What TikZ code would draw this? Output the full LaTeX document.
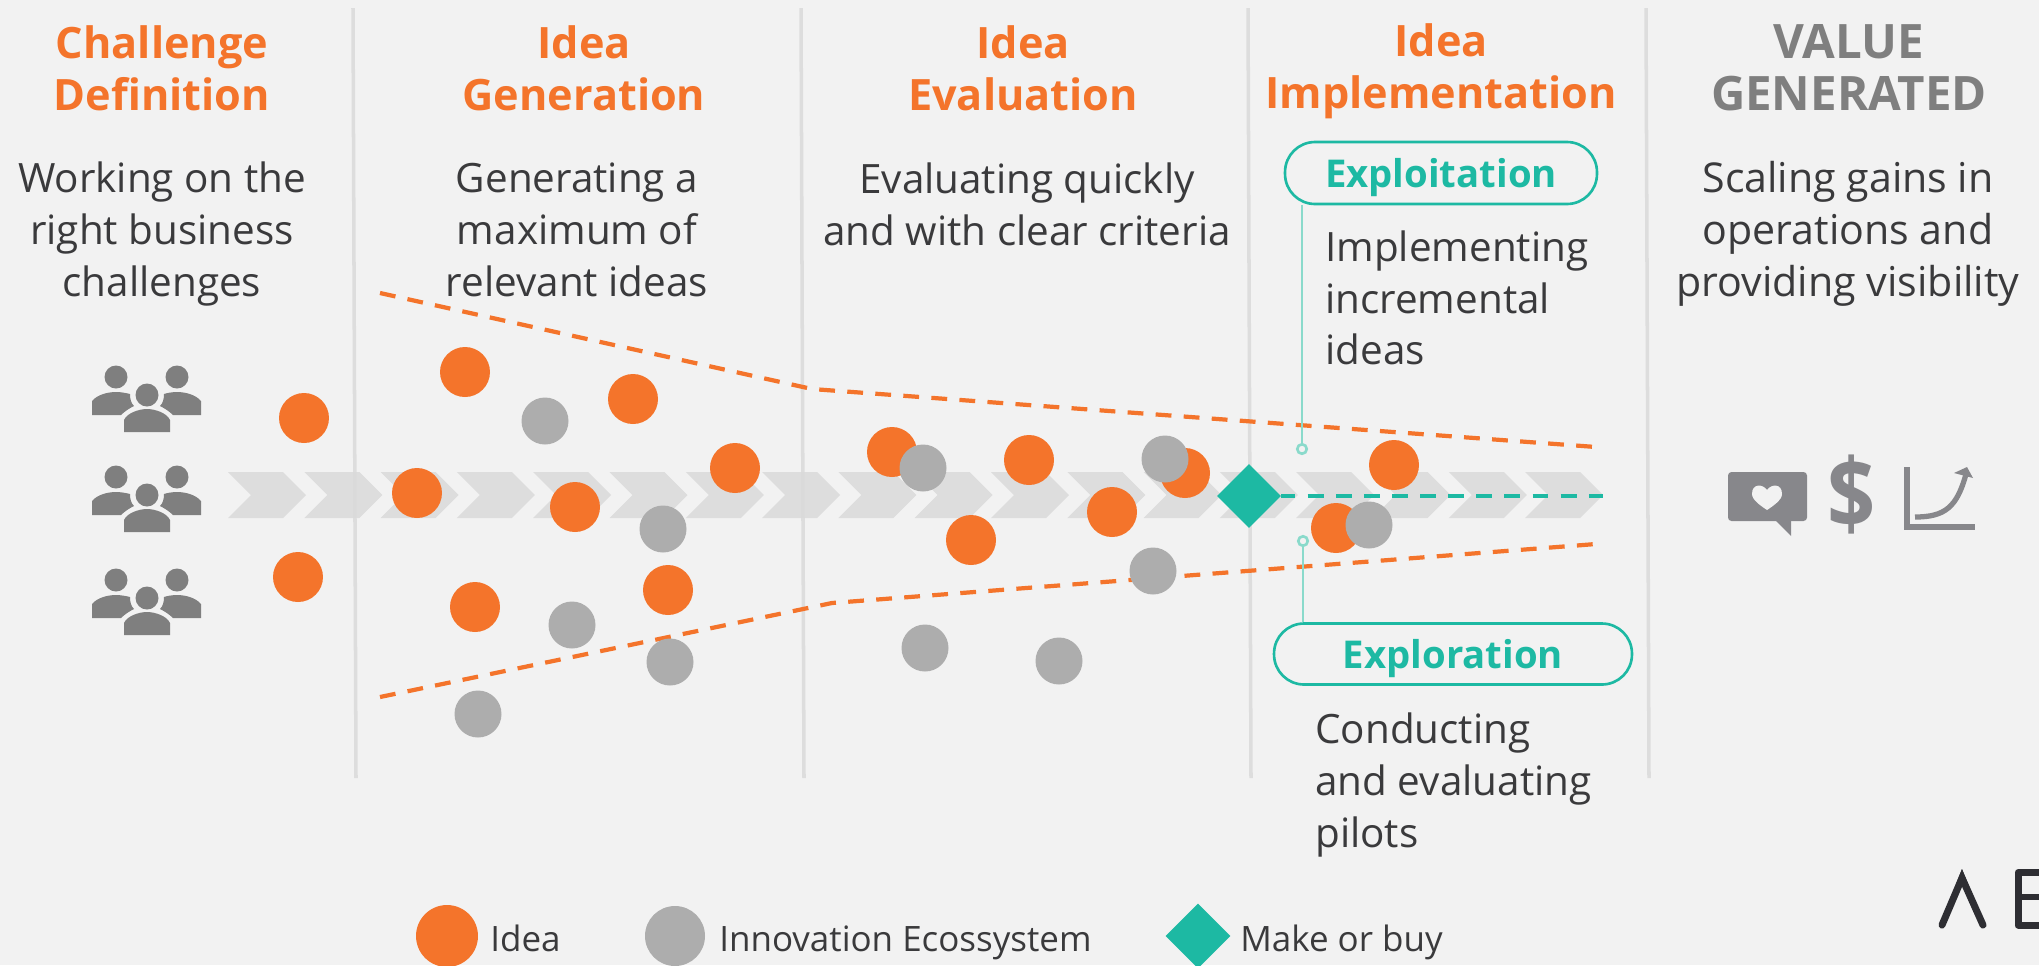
\documentclass[tikz,border=0pt]{standalone}
\usepackage{fontspec}
\usepackage{graphicx}
\setmainfont{Open Sans}
\usetikzlibrary{shapes.geometric}
\definecolor{bg}{HTML}{F2F2F2}
\definecolor{orng}{HTML}{F4742B}
\definecolor{gry}{HTML}{ADADAD}
\definecolor{teal1}{HTML}{1DB9A3}
\definecolor{teal2}{HTML}{8ADACB}
\definecolor{ink}{HTML}{3A3A3C}
\definecolor{head}{HTML}{7F7F7F}
\definecolor{icon}{HTML}{87878B}
\definecolor{chev}{HTML}{DDDDDD}
\definecolor{divc}{HTML}{DADADA}
\definecolor{logo}{HTML}{2E2E33}
\newcommand{\bodyfont}{\fontsize{23}{29.5}\selectfont}
\newcommand{\headfont}{\fontsize{24.6}{29.5}\selectfont\bfseries}
\newcommand{\pillfont}{\fontsize{21.8}{29.5}\selectfont\bfseries}
\tikzset{
  x=0.02cm,y=-0.02cm,
  ideadot/.style={circle,fill=orng,minimum size=1cm,inner sep=0pt},
  ecodot/.style={circle,fill=gry,minimum size=0.94cm,inner sep=0pt},
  headtxt/.style={font=\headfont,text=orng,align=center,inner sep=0pt},
  bodytxt/.style={font=\bodyfont,text=ink,align=center,inner sep=0pt},
  bodyleft/.style={font=\bodyfont,text=ink,align=left,anchor=west,inner sep=0pt},
  divider/.style={draw=divc,line width=2pt},
  funnel/.style={draw=orng,line width=2.4pt,dash pattern=on 9pt off 7pt},
  pill/.style={draw=teal1,line width=1.5pt,fill=bg,rounded corners=0.6cm,text=teal1,font=\pillfont,inner sep=0pt,text height=20pt,text depth=4pt},
  leader/.style={draw=teal2,line width=1.5pt},
  leaderdot/.style={circle,draw=teal2,line width=1.5pt,fill=bg,minimum size=0.19cm,inner sep=0pt},
  gate/.style={diamond,fill=teal1,inner sep=0pt,aspect=1},
  legendtxt/.style={font=\fontsize{19.9}{24}\selectfont,text=ink,anchor=west,inner sep=0pt,text height=18pt,text depth=3pt},
  people/.pic={
    \fill[head] (-31,-18) circle[radius=11.5];
    \fill[head] (30,-18) circle[radius=11.5];
    \fill[head] (0,0) circle[radius=11.5];
    \fill[head] (-23,37) -- (-23,25) .. controls (-20,18) and (-8,14) .. (0,14) .. controls (8,14) and (20,18) .. (23,25) -- (23,37) -- cycle;
    \fill[head] (-55,20) -- (-55,6) .. controls (-50,0) and (-40,-3) .. (-31,-3) .. controls (-26,-3) and (-21,-2) .. (-17,-1) .. controls (-17,4) and (-16,8) .. (-13,11) .. controls (-17,13) and (-22,16) .. (-26,20) -- cycle;
    \fill[head] (54,20) -- (54,6) .. controls (49,0) and (39,-3) .. (30,-3) .. controls (25,-3) and (20,-2) .. (17,-1) .. controls (17,4) and (16,8) .. (13,11) .. controls (17,13) and (22,16) .. (26,20) -- cycle;
  }
}
\begin{document}
\begin{tikzpicture}
\useasboundingbox (0,0) rectangle (2039,965);
\fill[bg] (0,0) rectangle (2039,965);
% chevrons
\foreach \i in {0,...,17}{
  \pgfmathsetmacro{\cx}{228+76.3*\i}
  \fill[chev] (\cx,472) -- ({\cx+55},472) -- ({\cx+78},495) -- ({\cx+55},518) -- (\cx,518) -- ({\cx+23},495) -- cycle;
}
% dividers
\draw[divider,opacity=.85] (353,8) -- (356,778);
\draw[divider,opacity=.85] (801,8) -- (804,778);
\draw[divider,opacity=.85] (1248,8) -- (1251,778);
\draw[divider,opacity=.85] (1646,8) -- (1649,778);
% funnel
\coordinate (ft1) at (380,293); \coordinate (ft2) at (812,389); \coordinate (ft3) at (1596,447);
\coordinate (fb1) at (380,697); \coordinate (fb2) at (832,603); \coordinate (fb3) at (1596,544);
\draw[funnel] (ft1) -- (ft2) -- (ft3);
\draw[funnel] (fb1) -- (fb2) -- (fb3);
% people
\pic (g1) at (147,395) {people};
\pic (g2) at (147,495) {people};
\pic (g3) at (147,598) {people};
% headings
\node[headtxt] (h1) at (162,68) {Challenge\\Definition};
\node[headtxt] (h2) at (584,68) {Idea\\Generation};
\node[headtxt] (h3) at (1023,68) {Idea\\Evaluation};
\node[headtxt] (h4) at (1441,71) {Idea\\Implementation};
\node[headtxt,text=head,font=\fontsize{27}{29.5}\selectfont\bfseries] (h5) at (1849,68) {VALUE\\GENERATED};
% body
\node[bodytxt] (b1) at (162,234) {Working on the\\right business\\challenges};
\node[bodytxt] (b2) at (577,230) {Generating a\\maximum of\\relevant ideas};
\node[bodytxt] (b3) at (1027,204) {Evaluating quickly\\and with clear criteria};
\node[bodyleft] (b4) at (1325,298) {Implementing\\incremental\\ideas};
\node[bodyleft] (b5) at (1315,785) {Conducting\\and evaluating\\pilots};
\node[bodytxt,font=\fontsize{23.4}{29.5}\selectfont] (b6) at (1848,234) {Scaling gains in\\operations and\\providing visibility};
% ideas
\foreach \p/\q [count=\n] in {304/418,465/372,417/493,298/577,475/607,633/399,735/468,575/507,668/590,892/452,1029/460,971/540,1112/512,1185/473,1394/465,1336/528}{
  \node[ideadot] (o\n) at (\p,\q) {};
}
\foreach \p/\q [count=\n] in {545/421,663/529,572/625,670/662,478/714,923/468,1165/459,1153/571,925/648,1059/661,1369/525}{
  \node[ecodot] (e\n) at (\p,\q) {};
}
% make or buy
\node[gate,minimum size=1.28cm] (gate) at (1249,496) {};
\coordinate (gend) at (1603,496);
\draw[draw=teal1,line width=2.4pt,dash pattern=on 9pt off 7pt,dash phase=1pt] (gate.east) -- (gend);
% callouts
\node[pill,minimum width=6.24cm,minimum height=1.24cm] (expl) at (1441,173) {Exploitation};
\node[pill,minimum width=7.16cm,minimum height=1.22cm] (expo) at (1453,654) {Exploration};
\node[leaderdot] (d1) at (1302,449) {};
\node[leaderdot] (d2) at (1303,541) {};
\draw[leader] (d1) -- (d1 |- expl.south);
\draw[leader] (d2) -- (d2 |- expo.north);
% value icons
\fill[icon,rounded corners=2pt] (1728,472) -- (1807,472) -- (1807,521) -- (1728,521) -- cycle;
\fill[icon] (1775,520) -- (1791,536) -- (1791,520) -- cycle;
\fill[bg] (1767,490) .. controls (1763,484) and (1752,483) .. (1752,494) .. controls (1752,500) and (1761,506) .. (1767,510) .. controls (1773,506) and (1782,500) .. (1782,494) .. controls (1782,483) and (1771,484) .. (1767,490) -- cycle;
\node[font=\fontsize{48}{50}\selectfont\bfseries,text=icon,inner sep=0pt] (dollar) at (1852,495) {\scalebox{1}[1.15]{\$}};
\draw[icon,line width=3.4pt] (1907,467) -- (1907,526.5) -- (1975,526.5);
\draw[icon,line width=3pt] (1915,517) .. controls (1945,517) and (1957,507) .. (1966,474);
\fill[icon] (1967,467) -- (1954,473) -- (1973,478) -- cycle;
% logo
\draw[logo,line width=4pt,line cap=round,line join=miter] (1942,925) -- (1962,878) -- (1983,925);
\fill[logo] (1962,869) -- (1968,884) -- (1956,884) -- cycle;
\draw[logo,line width=4pt,line join=round] (2039,872.5) -- (2018,872.5) -- (2018,925) -- (2039,925);
\draw[logo,line width=3.6pt] (2018,897) -- (2039,897);
% legend
\node[ideadot,minimum size=1.24cm] (l1) at (447,936) {};
\node[ecodot,fill=gry,minimum size=1.2cm] (l2) at (675,936) {};
\node[gate,minimum size=1.3cm] (l3) at (1198,936) {};
\node[legendtxt] (t1) at (490,938) {Idea};
\node[legendtxt] (t2) at (719,938) {Innovation Ecossystem};
\node[legendtxt] (t3) at (1240,938) {Make or buy};
\end{tikzpicture}
\end{document}
